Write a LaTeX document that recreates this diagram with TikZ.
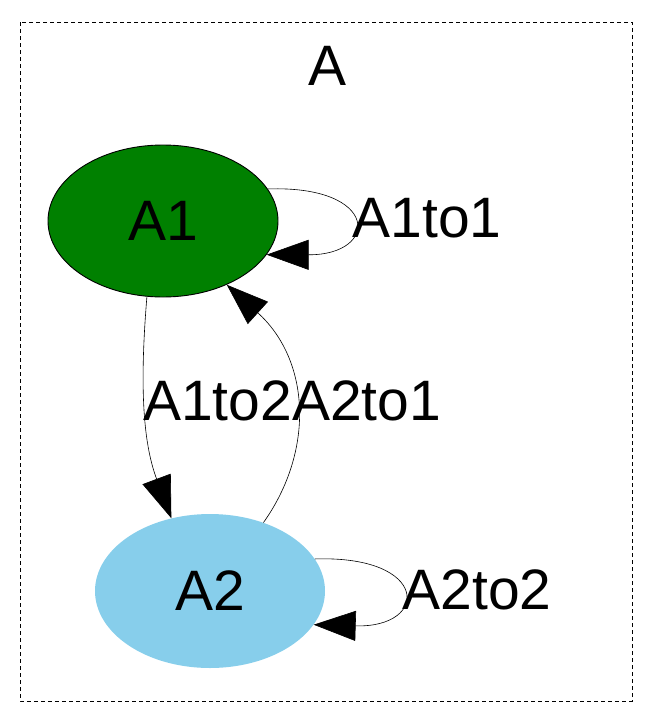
\documentclass[tikz,border=0pt]{standalone}
\usepackage{fontspec}
\setmainfont{Liberation Sans}
\usetikzlibrary{shapes.geometric,arrows.meta}
\definecolor{nodegreen}{RGB}{0,128,0}
\definecolor{nodeblue}{RGB}{135,206,235}
\tikzset{
  lbl/.style={inner sep=0pt, font=\fontsize{57}{68}\selectfont},
  state/.style={ellipse, inner sep=0pt, minimum width=230pt, minimum height=152pt, font=\fontsize{57}{68}\selectfont},
  edge/.style={line width=0.6pt, -{Triangle[length=42pt,width=30pt]}},
  frame/.style={line width=0.9pt, dash pattern=on 4pt off 3pt}
}
\begin{document}
\begin{tikzpicture}[x=1pt,y=-1pt]
\useasboundingbox (0,0) rectangle (656,728);
\draw[frame] (20,22) rectangle (632,701);
\node[lbl] (title) at (328,66) {A};
\node[state, draw=black, line width=0.9pt, fill=nodegreen] (a1) at (163,221) {A1};
\node[state, fill=nodeblue, minimum height=154pt] (a2) at (210,591) {A2};
\node[lbl] (l11) at (427,218) {A1to1};
\node[lbl] (l12) at (217.5,401) {A1to2};
\node[lbl] (l21) at (366.5,401) {A2to1};
\node[lbl] (l22) at (477,590) {A2to2};
\draw[edge] (a1.17) .. controls (380,185) and (380,255) .. (a1.-18);
\draw[edge] (a1.-102) .. controls (140,380) and (142,440) .. (a2.118);
\draw[edge] (a2.52) .. controls (315,450) and (310,360) .. (a1.-45);
\draw[edge] (a2.17) .. controls (430,555) and (430,628) .. (a2.-18);
\end{tikzpicture}
\end{document}
